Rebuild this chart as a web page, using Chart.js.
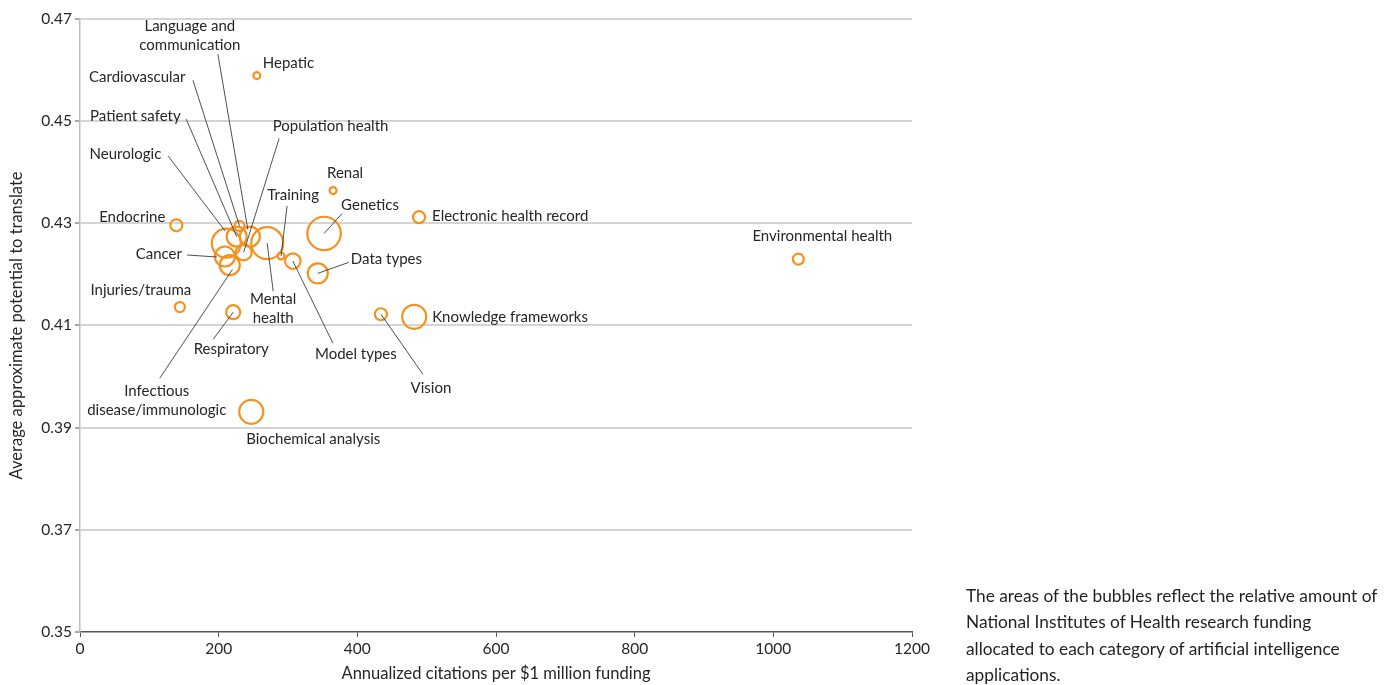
<!DOCTYPE html>
<html><head><meta charset="utf-8">
<script src="https://cdn.jsdelivr.net/npm/chart.js@4.4.0/dist/chart.umd.min.js"></script>
<style>
html,body{margin:0;padding:0;background:#fff;}
#wrap{position:relative;width:1398px;height:685px;}
#note{position:absolute;left:966px;top:583px;font-family:Lato,sans-serif;font-size:17.3px;line-height:26.3px;color:#231f20;white-space:nowrap;}
</style></head><body>
<div id="wrap"><canvas id="c"></canvas>
<div id="note">The areas of the bubbles reflect the relative amount of<br>National Institutes of Health research funding<br>allocated to each category of artificial intelligence<br>applications.</div></div>
<script>
// ---- data ----
const categories = ["Hepatic","Renal","Electronic health record","Environmental health","Genetics","Data types","Endocrine","Injuries/trauma","Respiratory","Vision","Knowledge frameworks","Biochemical analysis","Model types","Training","Mental\nhealth","Neurologic","Cardiovascular","Patient safety","Language and\ncommunication","Population health","Cancer","Infectious\ndisease/immunologic"];
const citations = [255,365,489,1036,352,343,139,144,221,434,482,247,307,290,270,211,230,226,245,236,209,216];
const translate = [0.4589,0.4364,0.4312,0.4230,0.4280,0.4202,0.4296,0.4136,0.4126,0.4122,0.4117,0.3931,0.4226,0.4236,0.4261,0.4261,0.4295,0.4274,0.4274,0.4243,0.4235,0.4218];
const funding = [12,12,36,30,280,100,36,25,49,36,144,144,60,12,256,210,25,100,100,64,100,100];
const xTicks = [0,200,400,600,800,1000,1200];
const yTicks = [0.35,0.37,0.39,0.41,0.43,0.45,0.47];
const xTitle = "Annualized citations per $1 million funding";
const yTitle = "Average approximate potential to translate";

// ---- label layout (pixel offsets relative to each bubble) ----
const labelLayout = [
 {dx:6,dy:-12,align:'left'},
 {dx:12,dy:-17,align:'center'},
 {dx:13,dy:-1,align:'left'},
 {dx:24,dy:-23,align:'center'},
 {dx:46,dy:-28,align:'center',lead:[18,-20]},
 {dx:33,dy:-14,align:'left',lead:[31,-11]},
 {dx:-11,dy:-8,align:'right'},
 {dx:-39,dy:-17,align:'center'},
 {dx:-2,dy:37,align:'center',lead:[-20,27]},
 {dx:50,dy:74,align:'center',lead:[42,60]},
 {dx:18,dy:0,align:'left'},
 {dx:62,dy:27,align:'center'},
 {dx:63,dy:93,align:'center',lead:[40,82]},
 {dx:12,dy:-61,align:'center',lead:[6,-50]},
 {dx:6,dy:56,align:'center',lead:[6,48]},
 {dx:-65,dy:-89,align:'right',lead:[-58,-87],end:[-1,-12]},
 {dx:-54,dy:-148.5,align:'right',lead:[-46.5,-145.5]},
 {dx:-56,dy:-120.5,align:'right',lead:[-50.5,-117.5]},
 {dx:-60,dy:-210.5,align:'center',lead:[-32,-182.5],end:[-2,-7]},
 {dx:29,dy:-126,align:'left',lead:[35.5,-114]},
 {dx:-43,dy:-2.5,align:'right',lead:[-38,-1.5],end:[-8,0.5]},
 {dx:-73,dy:126,align:'center',lead:[-70,113],end:[2.7,4.3]}
];

const FONT = 'Lato, "Noto Sans", sans-serif';
const TXT = '#262626';
const ORANGE = '#F5921E';

const labelPlugin = {
  id:'bubbleLabels',
  afterDatasetsDraw(chart){
    const ctx = chart.ctx;
    const meta = chart.getDatasetMeta(0);
    ctx.save();
    ctx.strokeStyle = '#3c3c3c';
    ctx.lineWidth = 0.9;
    meta.data.forEach((el,i)=>{
      const L = labelLayout[i];
      if(L.lead){
        const e = L.end || [0,0];
        ctx.beginPath();
        ctx.moveTo(el.x+L.lead[0], el.y+L.lead[1]);
        ctx.lineTo(el.x+e[0], el.y+e[1]);
        ctx.stroke();
      }
    });
    ctx.fillStyle = TXT;
    ctx.font = '15px ' + FONT;
    ctx.textBaseline = 'middle';
    meta.data.forEach((el,i)=>{
      const L = labelLayout[i];
      ctx.textAlign = L.align;
      categories[i].split('\n').forEach((line,k)=>{
        ctx.fillText(line, el.x+L.dx, el.y+L.dy+k*19);
      });
    });
    ctx.restore();
  }
};

new Chart(document.getElementById('c'), {
  type:'bubble',
  data:{
    datasets:[{
      label:'AI categories',
      data: categories.map((c,i)=>({x:citations[i], y:translate[i], r:Math.sqrt(funding[i])})),
      backgroundColor:'rgba(0,0,0,0)',
      borderColor:ORANGE,
      borderWidth:2.2,
      hoverRadius:0,
      hoverBorderWidth:2.2
    }]
  },
  options:{
    responsive:true,
    maintainAspectRatio:false,
    animation:false,
    events:[],
    layout:{padding:{top:17,right:486,left:0,bottom:0}},
    plugins:{legend:{display:false},tooltip:{enabled:false}},
    scales:{
      x:{
        type:'linear', min:0, max:1200,
        afterBuildTicks(s){ s.ticks = xTicks.map(v=>({value:v})); },
        afterFit(s){ s.height = 53; },
        ticks:{color:TXT,font:{family:FONT,size:15.5},padding:3,maxRotation:0,callback:v=>String(v)},
        grid:{drawOnChartArea:false,drawTicks:true,tickLength:5,tickColor:'#555',tickWidth:1},
        border:{display:true,color:'#555',width:1.5},
        title:{display:true,text:xTitle,color:TXT,font:{family:FONT,size:16.5,lineHeight:1.2},padding:{top:0,bottom:1}}
      },
      y:{
        type:'linear', min:0.35, max:0.47,
        afterBuildTicks(s){ s.ticks = yTicks.map(v=>({value:v})); },
        afterFit(s){ s.width = 80; },
        ticks:{color:TXT,font:{family:FONT,size:15.5},padding:3,callback:v=>Number(v).toFixed(2)},
        grid:{
          color:c=> (c.tick && Math.abs(c.tick.value-0.35)<1e-6) ? 'rgba(0,0,0,0)' : '#d5d5d5',
          lineWidth:2,drawTicks:true,tickLength:5,tickColor:'#555',tickWidth:1
        },
        border:{display:true,color:'#bdbdbd',width:1.5},
        title:{display:true,text:yTitle,color:TXT,font:{family:FONT,size:16.5,lineHeight:1.2},padding:{top:7,bottom:0}}
      }
    }
  },
  plugins:[labelPlugin]
});
</script>
</body></html>
